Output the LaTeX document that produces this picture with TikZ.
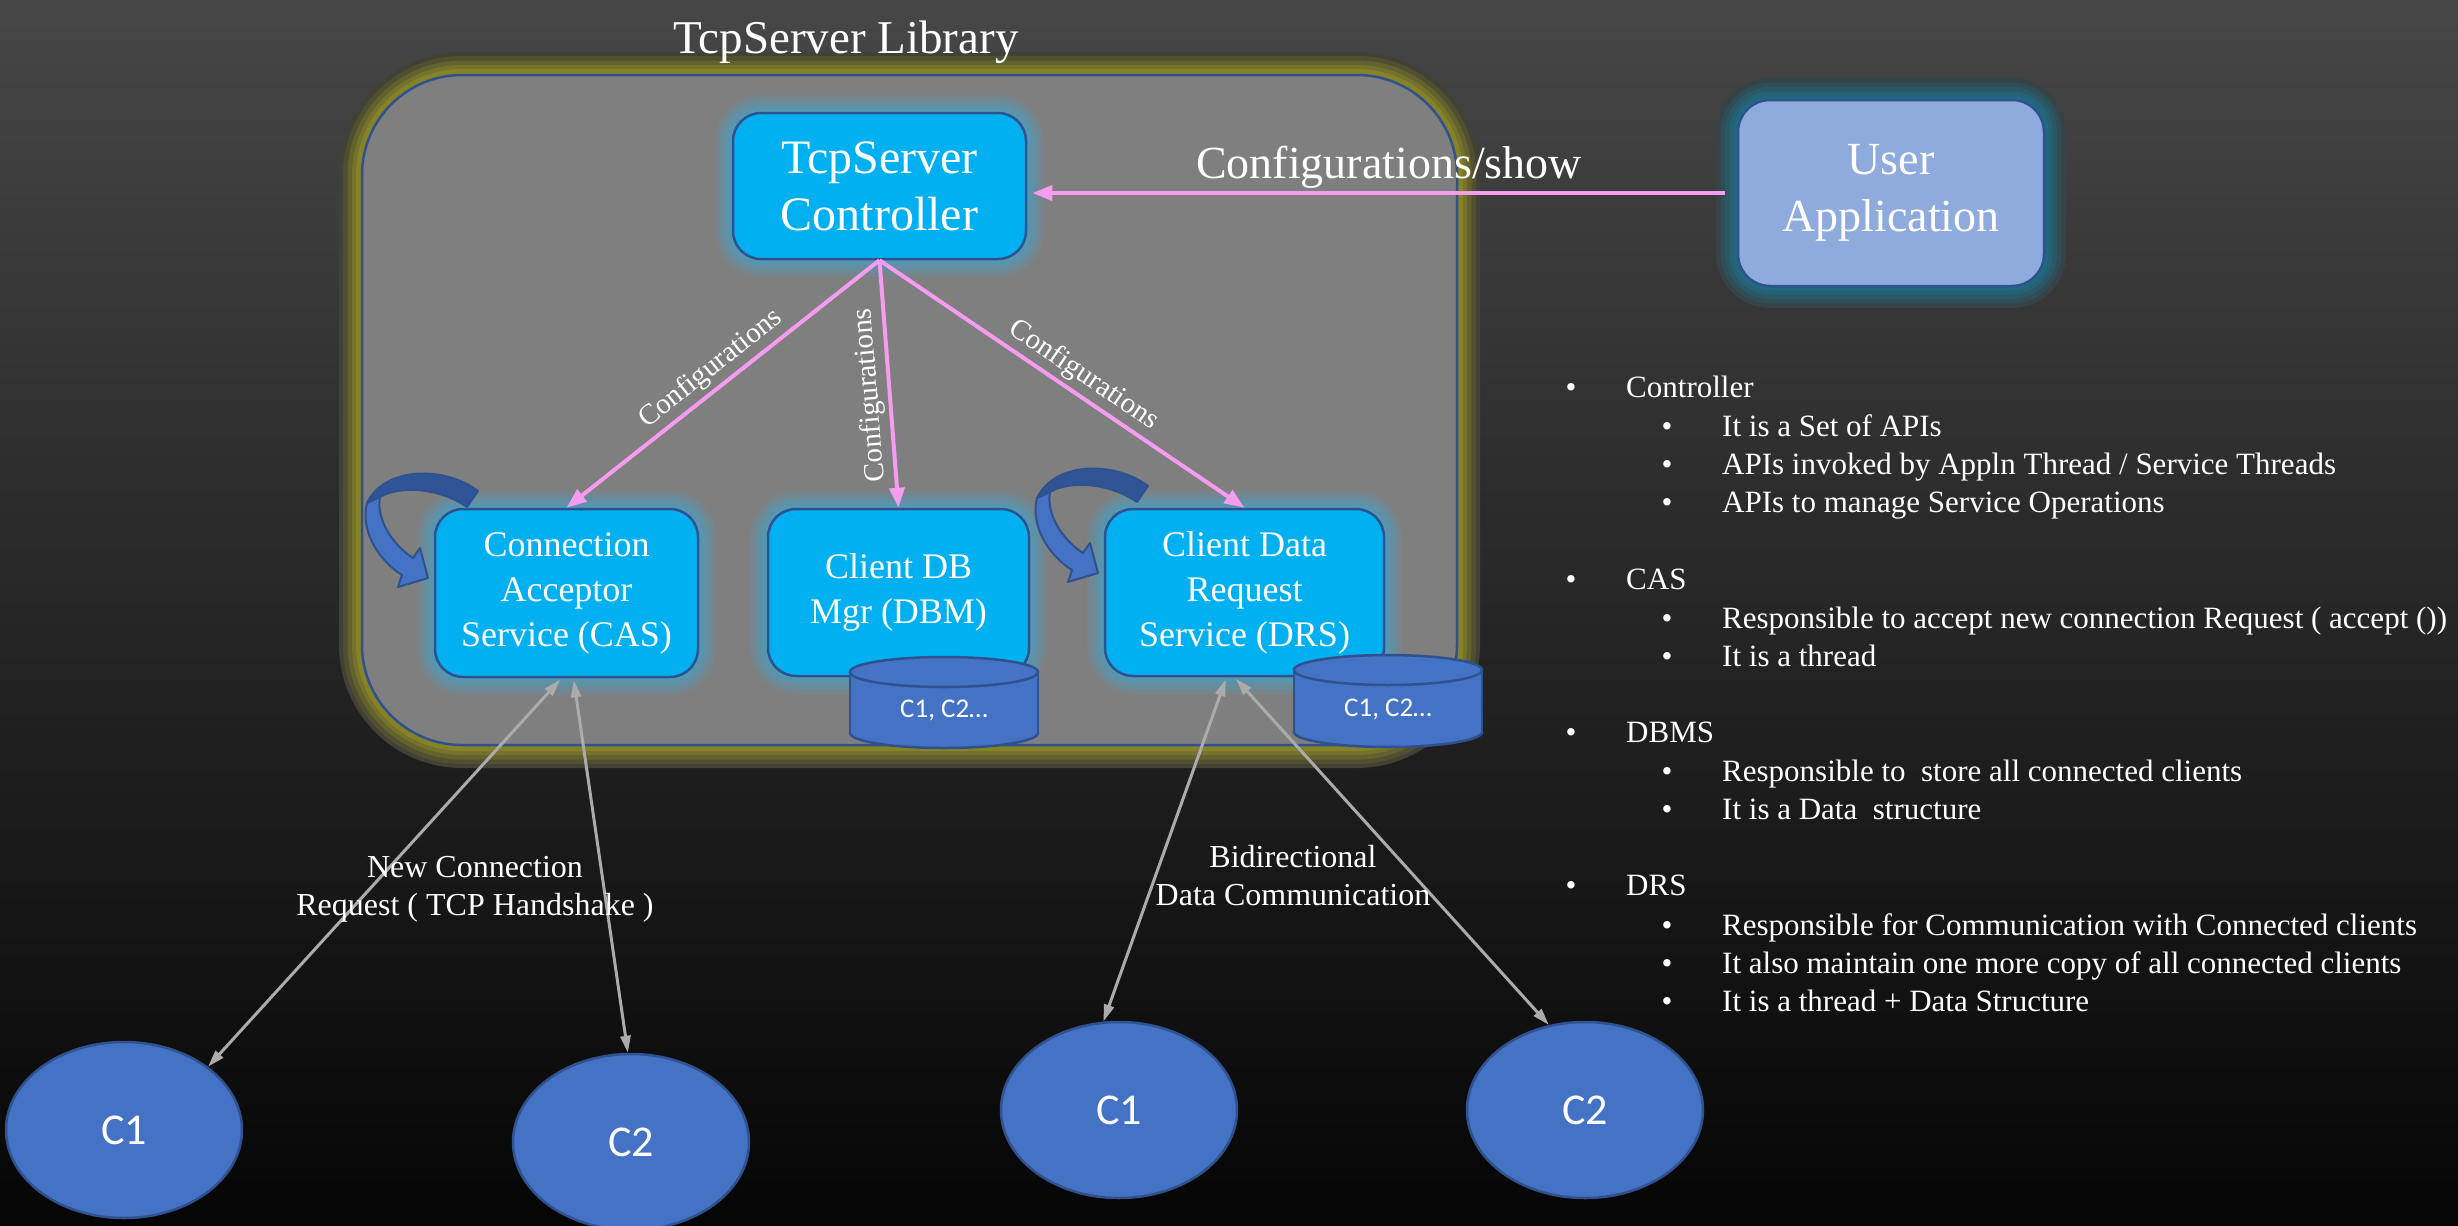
\documentclass[tikz,border=0pt]{standalone}
\usepackage{fontspec}
\setmainfont{Liberation Serif}
\newfontfamily\mainserif{Liberation Serif}
\newfontfamily\labelsans{Carlito}
\usetikzlibrary{arrows.meta,shapes.geometric}

\definecolor{bgtop}{HTML}{474747}
\definecolor{bgbot}{HTML}{050505}
\definecolor{bgmid}{HTML}{363636}
\definecolor{bgapp}{HTML}{3B3B3B}
\definecolor{edgeblue}{HTML}{2F528F}
\definecolor{svcfill}{HTML}{00B0F0}
\definecolor{accent}{HTML}{4472C4}
\definecolor{accentdark}{HTML}{2F5597}
\definecolor{appfill}{HTML}{8FAADC}
\definecolor{libfill}{HTML}{7F7F7F}
\definecolor{libglow}{HTML}{9C9824}
\definecolor{svcglow}{HTML}{3CA5D2}
\definecolor{appglow}{HTML}{1480A2}
\definecolor{cfgpink}{HTML}{F59BF0}
\definecolor{linkgray}{HTML}{ABABAB}

% serif / sans text at a given size and line spacing
\newcommand\serifsz[2]{\mainserif\fontsize{#1}{#2}\selectfont}
\newcommand\sanssz[2]{\labelsans\fontsize{#1}{#2}\selectfont}

\tikzset{
  % soft halos made of nested solid strokes, outermost first
  svcglowing/.style={
    preaction={draw=svcglow!14!libfill, line width=36pt},
    preaction={draw=svcglow!28!libfill, line width=28pt},
    preaction={draw=svcglow!42!libfill, line width=20pt},
    preaction={draw=svcglow!56!libfill, line width=12pt},
    preaction={draw=svcglow!66!libfill, line width=6pt}},
  appglowing/.style={
    preaction={draw=appglow!12!bgapp, line width=44pt},
    preaction={draw=appglow!26!bgapp, line width=35pt},
    preaction={draw=appglow!42!bgapp, line width=26pt},
    preaction={draw=appglow!56!bgapp, line width=17pt},
    preaction={draw=appglow!66!bgapp, line width=9pt}},
  libglowing/.style={
    preaction={draw=libglow!12!bgmid, line width=46pt},
    preaction={draw=libglow!26!bgmid, line width=38pt},
    preaction={draw=libglow!44!bgmid, line width=29pt},
    preaction={draw=libglow!62!bgmid, line width=20pt},
    preaction={draw=libglow!78!bgmid, line width=12pt}},
  libbox/.style={libglowing, draw=edgeblue, line width=2.5pt, fill=libfill,
    rounded corners=100pt, inner sep=0pt},
  svcbox/.style={svcglowing, draw=edgeblue, line width=2.5pt, fill=svcfill,
    rounded corners=28pt, text=white, align=center, inner sep=0pt,
    font=\serifsz{36}{45}},
  appbox/.style={appglowing, draw=edgeblue, line width=2.5pt, fill=appfill,
    rounded corners=32pt, text=white, align=center, inner sep=0pt,
    font=\serifsz{46}{57}},
  clientnode/.style={ellipse, draw=edgeblue, line width=2.5pt, fill=accent,
    minimum width=236pt, minimum height=176pt, inner sep=0pt, text=white,
    font=\sanssz{44}{50}},
  cylpart/.style={fill=accent, draw=edgeblue, line width=2.5pt},
  cfgline/.style={draw=cfgpink, line width=4pt},
  cfgtip/.style={-{Triangle[length=20pt,width=15pt]}},
  cfglabel/.style={text=white, font=\serifsz{29}{34}, inner sep=4pt},
  linkline/.style={draw=linkgray, line width=3pt,
    {Triangle[length=17pt,width=10pt]}-{Triangle[length=17pt,width=10pt]}},
  linklabel/.style={text=white, font=\serifsz{32}{38}, align=center, inner sep=0pt},
  listtext/.style={text=white, font=\serifsz{31}{38}, inner sep=0pt},
  loopback/.pic={
    \filldraw[fill=accentdark, draw=edgeblue, line width=2pt, line join=round]
      (478,491) .. controls (445,466) and (385,466) .. (367,503)
      -- (380,497) .. controls (400,485) and (440,488) .. (467,507) -- cycle;
    \filldraw[fill=accent, draw=edgeblue, line width=2pt, line join=round]
      (367,503) .. controls (360,530) and (378,560) .. (402,575)
      -- (398,587) -- (428,578) -- (420,548) -- (413,558)
      .. controls (393,545) and (376,520) .. (380,497) -- cycle;
  }
}

% one storage drum: centre x, top y, bottom y, name of its label
\newcommand\storedrum[4]{%
  \filldraw[cylpart] (#1,#3-15) ellipse[x radius=94, y radius=15];
  \fill[accent] (#1-94,#2+15) rectangle (#1+94,#3-15);
  \draw[edgeblue, line width=2.5pt] (#1-94,#2+15) -- (#1-94,#3-15)
    (#1+94,#2+15) -- (#1+94,#3-15);
  \filldraw[cylpart] (#1,#2+15) ellipse[x radius=94, y radius=15];
  \node[text=white, font=\sanssz{27}{32}, inner sep=0pt] (#4)
    at (#1,{(#2+#3)/2+8}) {C1, C2…};
}

% list lines: name, baseline y, text
\newcommand\noteheadline[3]{%
  \node[listtext, anchor=base] (#1dot) at (1571,#2) {\textbullet};
  \node[listtext, anchor=base west] (#1) at (1626,#2) {#3};}
\newcommand\notesubline[3]{%
  \node[listtext, anchor=base] (#1dot) at (1667,#2) {\textbullet};
  \node[listtext, anchor=base west] (#1) at (1722,#2) {#3};}

\begin{document}
\begin{tikzpicture}[x=1pt,y=-1pt]
\useasboundingbox (0,0) rectangle (2458,1226);
\shade[top color=bgtop, bottom color=bgbot] (0,0) rectangle (2458,1226);

% library frame and title
\node[libbox, minimum width=1095pt, minimum height=670pt] (lib) at (909.5,410) {};
\node[text=white, font=\serifsz{47}{56}, anchor=base, inner sep=0pt] (title)
  at (846,53) {TcpServer Library};

% service blocks
\node[svcbox, font=\serifsz{48}{57}, minimum width=293pt, minimum height=146pt]
  (ctrl) at (879.5,186) {TcpServer\\Controller};
\node[appbox, minimum width=306pt, minimum height=186pt]
  (user) at (1891,193) {User\\Application};
\node[svcbox, minimum width=263pt, minimum height=168pt]
  (cas) at (566.5,593) {Connection\\Acceptor\\Service (CAS)};
\node[svcbox, minimum width=261pt, minimum height=167pt]
  (dbm) at (898.5,592.5) {Client DB\\Mgr (DBM)};
\node[svcbox, minimum width=279pt, minimum height=167pt]
  (drs) at (1244.5,592.5) {Client Data\\Request\\Service (DRS)};

% self-loop arrows of the two threads
\pic at (0,0) {loopback};
\pic at (670,-5) {loopback};

% client tables
\storedrum{944}{657}{748}{dbmtable}
\storedrum{1388}{655}{747}{drstable}

% configuration paths
\draw[cfgline, cfgtip, shorten <=12pt, shorten >=5pt]
  (user.west) -- (user.west -| ctrl.east)
  node[text=white, font=\serifsz{46}{54}, inner sep=3pt, above, pos=0.49] (cfgshow)
  {Configurations/show};
\draw[cfgline, cfgtip] (ctrl.south) -- (cas.north)
  node[cfglabel, pos=0.5, sloped, above] (cfgcas) {Configurations};
\draw[cfgline, {Triangle[length=20pt,width=15pt]}-] (dbm.north) -- (ctrl.south)
  node[cfglabel, pos=0.46, sloped, above, allow upside down] (cfgdbm) {Configurations};
\draw[cfgline, cfgtip] (ctrl.south) -- (drs.north)
  node[cfglabel, pos=0.53, sloped, above] (cfgdrs) {Configurations};

% clients
\node[clientnode] (c1) at (124,1130) {C1};
\node[clientnode] (c2) at (631,1142) {C2};
\node[clientnode] (c3) at (1119,1110) {C1};
\node[clientnode] (c4) at (1585,1110) {C2};

% client links
\draw[linkline, shorten <=2pt] ([xshift=-5pt]cas.south) -- (c1.37);
\draw[linkline, shorten <=2pt] ([xshift=7pt]cas.south) -- (c2.92);
\draw[linkline, shorten <=2pt] ([xshift=-18pt]drs.south) -- (c3.100);
\draw[linkline, shorten <=2pt] ([xshift=-10pt]drs.south) -- (c4.113);

\node[linklabel] (newconn) at (475,889) {New Connection\\Request ( TCP Handshake )};
\node[linklabel] (bidir) at (1293,876) {Bidirectional\\Data Communication};

% notes
\noteheadline{nctrl}{397}{Controller}
\notesubline{nctrla}{436}{It is a Set of APIs}
\notesubline{nctrlb}{474}{APIs invoked by Appln Thread / Service Threads}
\notesubline{nctrlc}{512}{APIs to manage Service Operations}
\noteheadline{ncas}{589}{CAS}
\notesubline{ncasa}{628}{Responsible to accept new connection Request ( accept ())}
\notesubline{ncasb}{666}{It is a thread}
\noteheadline{ndbms}{742}{DBMS}
\notesubline{ndbmsa}{781}{Responsible to\ \ store all connected clients}
\notesubline{ndbmsb}{819}{It is a Data\ \ structure}
\noteheadline{ndrs}{895}{DRS}
\notesubline{ndrsa}{935}{Responsible for Communication with Connected clients}
\notesubline{ndrsb}{973}{It also maintain one more copy of all connected clients}
\notesubline{ndrsc}{1011}{It is a thread + Data Structure}
\end{tikzpicture}
\end{document}
